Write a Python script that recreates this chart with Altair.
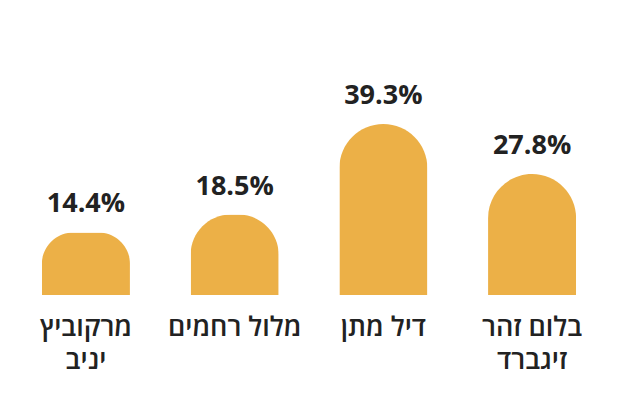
import altair as alt
import pandas as pd

names = ["מרקוביץ\nיניב", "מלול רחמים", "דיל מתן", "בלום זהר\nזיגברד"]
values = [14.4, 18.5, 39.3, 27.8]
value_labels = ["14.4%", "18.5%", "39.3%", "27.8%"]

df = pd.DataFrame({"name": names, "value": values, "label": value_labels})

COLOR = "#ECB047"
FONT = "Open Sans"

x = alt.X(
    "name:N",
    sort=names,
    scale=alt.Scale(paddingInner=0.408, paddingOuter=0.228),
    axis=alt.Axis(
        title=None,
        domain=False,
        ticks=False,
        labelAngle=0,
        labelFont=FONT,
        labelFontSize=27,
        labelFontWeight=600,
        labelColor="#222222",
        labelPadding=19,
        labelLineHeight=33,
        labelBaseline="top",
        labelExpr="split(datum.label, '\\n')",
    ),
)
y = alt.Y("value:Q", scale=alt.Scale(domain=[0, 66]), axis=None)

bars = alt.Chart(df).mark_bar(
    color=COLOR, cornerRadiusTopLeft=44, cornerRadiusTopRight=44
).encode(x=x, y=y)

texts = alt.Chart(df).mark_text(
    font=FONT, fontSize=27, fontWeight="bold", color="#222222", dy=-20, baseline="alphabetic"
).encode(x=x, y=y, text="label:N")

chart = (
    alt.layer(bars, texts)
    .properties(
        width=602,
        height=287,
        padding={"left": 0, "top": 0, "right": 0, "bottom": 10},
    )
    .configure_view(stroke=None)
)

chart.save("out.html", embed_options={"renderer": "svg", "actions": False})
